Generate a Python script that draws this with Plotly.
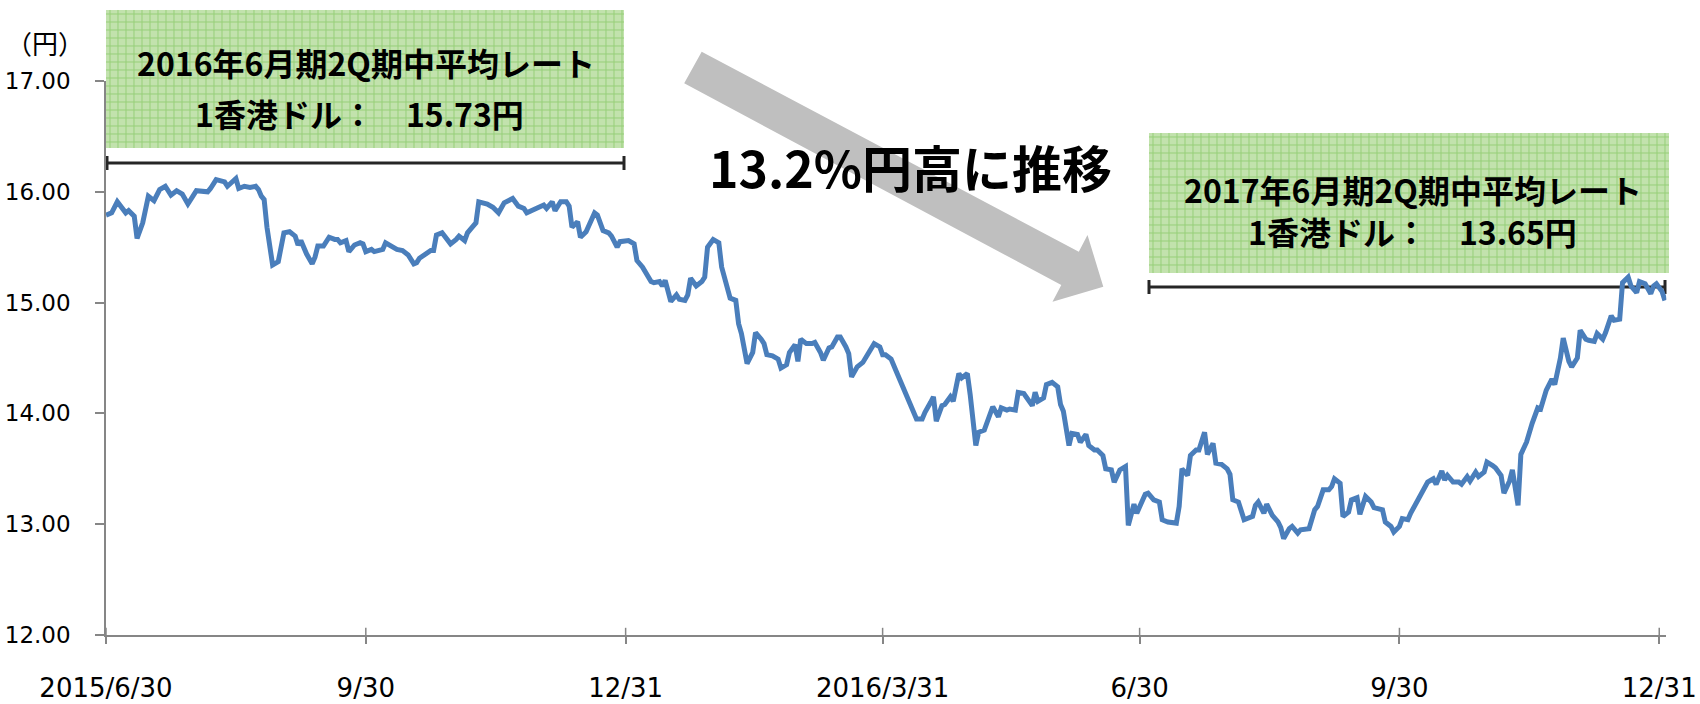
import pandas as pd
import plotly.graph_objects as go

# ---------------- data ----------------
START_DATE = "2015-06-30"
# trading-day positions (days after START_DATE) and HKD/JPY rate (円)
days = [0, 2, 4, 5, 7, 8, 10, 11, 13, 15, 17, 19, 21, 23, 25, 27, 29, 32, 36, 37,
        39, 42, 43, 46, 47, 49, 51, 53, 54, 55, 56, 57, 59, 61, 63, 65, 67, 68, 69, 71,
        73, 74, 75, 77, 79, 81, 82, 83, 85, 86, 88, 90, 91, 92, 94, 95, 98, 99, 101, 103,
        105, 107, 109, 110, 111, 113, 115, 116, 117, 119, 121, 122, 124, 125, 127, 128, 130, 131, 132, 135,
        137, 139, 141, 144, 146, 148, 149, 152, 154, 155, 156, 158, 159, 161, 163, 164, 165, 167, 168, 170,
        173, 174, 176, 178, 179, 181, 182, 184, 185, 187, 188, 190, 191, 193, 194, 196, 197, 198, 200, 202,
        203, 205, 206, 207, 209, 211, 212, 213, 215, 217, 218, 220, 221, 223, 224, 225, 227, 229, 230, 232,
        233, 234, 236, 238, 239, 241, 242, 244, 245, 246, 248, 250, 251, 253, 254, 256, 257, 259, 260, 262,
        263, 264, 266, 268, 269, 271, 272, 274, 275, 276, 278, 280, 281, 283, 285, 287, 289, 290, 292, 293,
        294, 296, 297, 299, 300, 302, 303, 305, 306, 308, 309, 311, 313, 314, 316, 317, 319, 320, 322, 323,
        325, 326, 328, 329, 330, 332, 333, 335, 337, 338, 339, 341, 342, 344, 345, 347, 348, 350, 351, 353,
        354, 356, 357, 359, 361, 362, 364, 365, 367, 368, 369, 371, 373, 374, 376, 379, 380, 381, 383, 384,
        386, 387, 389, 390, 392, 393, 395, 397, 398, 399, 401, 403, 406, 407, 408, 410, 411, 413, 415, 416,
        417, 419, 420, 422, 423, 425, 426, 428, 429, 431, 433, 434, 435, 437, 438, 440, 441, 443, 444, 446,
        448, 449, 451, 452, 453, 455, 456, 458, 459, 461, 462, 464, 467, 468, 470, 471, 473, 474, 475, 477,
        479, 480, 482, 483, 485, 486, 488, 489, 491, 492, 494, 495, 497, 498, 500, 501, 503, 504, 505, 507,
        508, 510, 512, 513, 515, 516, 518, 519, 521, 522, 524, 525, 527, 528, 530, 531, 533, 534, 536, 537,
        539, 540, 542, 543, 545, 547, 548, 549, 551, 552]
rates = [15.79, 15.81, 15.91, 15.88, 15.81, 15.83, 15.78, 15.58, 15.72, 15.96, 15.92, 16.02, 16.05, 15.97, 16.01, 15.98, 15.89, 16.01, 16.00, 16.03,
         16.11, 16.09, 16.05, 16.12, 16.03, 16.05, 16.04, 16.05, 16.02, 15.96, 15.93, 15.68, 15.34, 15.37, 15.63, 15.64, 15.60, 15.52, 15.56, 15.44,
         15.35, 15.41, 15.51, 15.51, 15.59, 15.57, 15.57, 15.54, 15.56, 15.46, 15.52, 15.54, 15.53, 15.46, 15.48, 15.46, 15.48, 15.54, 15.51, 15.48,
         15.47, 15.43, 15.35, 15.36, 15.40, 15.43, 15.47, 15.47, 15.61, 15.63, 15.57, 15.53, 15.57, 15.60, 15.56, 15.63, 15.69, 15.72, 15.91, 15.89,
         15.86, 15.81, 15.90, 15.94, 15.87, 15.85, 15.81, 15.84, 15.86, 15.88, 15.85, 15.91, 15.83, 15.91, 15.91, 15.87, 15.68, 15.73, 15.59, 15.64,
         15.81, 15.79, 15.65, 15.63, 15.60, 15.50, 15.55, 15.55, 15.56, 15.53, 15.38, 15.32, 15.28, 15.19, 15.18, 15.19, 15.15, 15.20, 15.01, 15.07,
         15.03, 15.02, 15.07, 15.22, 15.15, 15.19, 15.23, 15.50, 15.57, 15.54, 15.32, 15.12, 15.04, 15.02, 14.81, 14.72, 14.45, 14.55, 14.73, 14.67,
         14.63, 14.53, 14.52, 14.49, 14.41, 14.44, 14.55, 14.62, 14.47, 14.67, 14.63, 14.63, 14.64, 14.55, 14.48, 14.59, 14.60, 14.69, 14.69, 14.60,
         14.54, 14.33, 14.42, 14.46, 14.50, 14.60, 14.63, 14.60, 14.53, 14.53, 14.49, 14.37, 14.31, 14.21, 14.08, 13.95, 13.95, 14.01, 14.10, 14.15,
         13.93, 14.07, 14.08, 14.15, 14.11, 14.36, 14.32, 14.36, 14.17, 13.71, 13.83, 13.85, 13.99, 14.06, 13.97, 14.05, 14.03, 14.04, 14.03, 14.19,
         14.18, 14.14, 14.07, 14.19, 14.11, 14.14, 14.26, 14.28, 14.24, 14.08, 14.02, 13.71, 13.82, 13.81, 13.74, 13.81, 13.71, 13.67, 13.67, 13.62,
         13.50, 13.49, 13.38, 13.49, 13.52, 12.99, 13.18, 13.10, 13.20, 13.27, 13.28, 13.22, 13.20, 13.04, 13.02, 13.01, 13.16, 13.50, 13.44, 13.62,
         13.67, 13.67, 13.83, 13.63, 13.73, 13.55, 13.54, 13.50, 13.45, 13.22, 13.20, 13.04, 13.07, 13.17, 13.20, 13.10, 13.18, 13.08, 13.02, 12.97,
         12.87, 12.96, 12.98, 12.92, 12.95, 12.96, 12.96, 13.13, 13.16, 13.31, 13.31, 13.34, 13.41, 13.37, 13.07, 13.11, 13.22, 13.24, 13.09, 13.25,
         13.20, 13.15, 13.14, 13.13, 13.02, 12.98, 12.93, 12.98, 13.05, 13.04, 13.10, 13.19, 13.34, 13.38, 13.41, 13.36, 13.48, 13.40, 13.44, 13.38,
         13.38, 13.36, 13.43, 13.39, 13.47, 13.43, 13.47, 13.56, 13.53, 13.51, 13.44, 13.28, 13.39, 13.49, 13.17, 13.63, 13.74, 13.83, 13.91, 14.05,
         14.04, 14.21, 14.31, 14.26, 14.50, 14.68, 14.47, 14.42, 14.50, 14.75, 14.67, 14.66, 14.65, 14.72, 14.67, 14.73, 14.88, 14.84, 14.85, 15.18,
         15.23, 15.15, 15.09, 15.19, 15.17, 15.08, 15.15, 15.17, 15.10, 15.02]

tick_dates = ["2015-06-30", "2015-09-30", "2015-12-31", "2016-03-31", "2016-06-30", "2016-09-30", "2016-12-31"]
tick_labels = ["2015/6/30", "9/30", "12/31", "2016/3/31", "6/30", "9/30", "12/31"]
y_ticks = [12, 13, 14, 15, 16, 17]

y_unit = "（円）"
box1_lines = ["2016年6月期2Q期中平均レート", "1香港ドル：　15.73円"]
box2_lines = ["2017年6月期2Q期中平均レート", "1香港ドル：　13.65円"]
trend_text = "13.2%円高に推移"

# ---------------- layout helpers ----------------
W, H = 1700, 704
FONT_JP = "Noto Sans CJK JP"
FONT_AX = "DejaVu Sans"
AXIS_GREY = "#868686"


def px(x):
    return x / W


def py(y):
    return 1 - y / H


dates = pd.Timestamp(START_DATE) + pd.to_timedelta(days, unit="D")
x_start = pd.Timestamp(START_DATE)
x_end = pd.Timestamp("2017-01-02 12:00")

fig = go.Figure()
fig.add_trace(go.Scatter(
    x=dates, y=rates, mode="lines",
    line=dict(color="#4a7ebb", width=5),
    hoverinfo="skip", showlegend=False,
))

shapes = []


def grid_box(x0, y0, x1, y1, step=8):
    shapes.append(dict(type="rect", xref="paper", yref="paper",
                       x0=px(x0), x1=px(x1), y0=py(y1), y1=py(y0),
                       fillcolor="#c2e2ad", line=dict(width=0), layer="below"))
    segs = []
    x = x0 + step / 2
    while x < x1:
        segs.append(f"M{px(x):.5f},{py(y0):.5f}L{px(x):.5f},{py(y1):.5f}")
        x += step
    y = y0 + step / 2
    while y < y1:
        segs.append(f"M{px(x0):.5f},{py(y):.5f}L{px(x1):.5f},{py(y):.5f}")
        y += step
    shapes.append(dict(type="path", xref="paper", yref="paper", path="".join(segs),
                       line=dict(color="#97cf79", width=1), layer="below"))


def bracket(x0, x1, y, half=7):
    for seg in [(x0, y, x1, y), (x0, y - half, x0, y + half), (x1, y - half, x1, y + half)]:
        shapes.append(dict(type="line", xref="paper", yref="paper",
                           x0=px(seg[0]), y0=py(seg[1]), x1=px(seg[2]), y1=py(seg[3]),
                           line=dict(color="#262626", width=3), layer="below"))


grid_box(106, 10, 624, 148)
grid_box(1149, 133, 1669, 273)
bracket(107, 624, 163)
bracket(1149, 1665, 287)

# big grey arrow
arrow_pts = [(701.7, 51.7), (1078.8, 251.7), (1087.5, 235), (1103.3, 286.7),
             (1052.5, 301.7), (1061.3, 285), (684.2, 83.3)]
path = "M" + "L".join(f"{px(a):.5f},{py(b):.5f}" for a, b in arrow_pts) + "Z"
shapes.append(dict(type="path", xref="paper", yref="paper", path=path,
                   fillcolor="#bfbfbf", line=dict(width=0), layer="below"))

# inner half of the crossing x tick marks
for d in tick_dates:
    shapes.append(dict(type="line", xref="x", yref="y", x0=d, x1=d, y0=12, y1=12.065,
                       line=dict(color=AXIS_GREY, width=1.5), layer="above"))

annotations = [
    dict(text=y_unit, x=px(45), y=py(43), font=dict(family=FONT_JP, size=26, color="#000")),
    dict(text=f"<b>{box1_lines[0]}</b>", x=px(366), y=py(62), font=dict(family=FONT_JP, size=32, color="#000")),
    dict(text=f"<b>{box1_lines[1]}</b>", x=px(359), y=py(113), font=dict(family=FONT_JP, size=32, color="#000")),
    dict(text=f"<b>{box2_lines[0]}</b>", x=px(1413), y=py(189), font=dict(family=FONT_JP, size=32, color="#000")),
    dict(text=f"<b>{box2_lines[1]}</b>", x=px(1412), y=py(231), font=dict(family=FONT_JP, size=32, color="#000")),
    dict(text=f"<b>{trend_text}</b>", x=px(910), y=py(166), font=dict(family=FONT_JP, size=50, color="#000")),
]
for a in annotations:
    a.update(xref="paper", yref="paper", showarrow=False, xanchor="center", yanchor="middle")

fig.update_layout(
    width=W, height=H,
    margin=dict(l=0, r=0, t=0, b=0),
    paper_bgcolor="white", plot_bgcolor="rgba(0,0,0,0)",
    showlegend=False,
    shapes=shapes, annotations=annotations,
    xaxis=dict(
        domain=[px(106), px(106) + (1666.3 - 106) / W],
        range=[x_start, x_end], type="date",
        tickmode="array", tickvals=tick_dates, ticktext=tick_labels,
        showgrid=False, zeroline=False,
        showline=True, linecolor=AXIS_GREY, linewidth=2,
        ticks="outside", ticklen=7, tickwidth=1.5, tickcolor=AXIS_GREY,
        tickfont=dict(family=FONT_AX, size=26, color="#000"),
        ticklabelstandoff=22, automargin=False,
    ),
    yaxis=dict(
        domain=[69 / H, 623 / H],
        range=[12, 17], tickmode="array", tickvals=y_ticks, tickformat=".2f",
        showgrid=False, zeroline=False,
        showline=True, linecolor=AXIS_GREY, linewidth=1.5,
        ticks="outside", ticklen=9, tickwidth=1.5, tickcolor=AXIS_GREY,
        tickfont=dict(family=FONT_AX, size=23, color="#000"),
        ticklabelstandoff=20, automargin=False,
    ),
)

fig.write_html(
    "out.html",
    config={"displayModeBar": False},
    post_script="document.body.style.margin='0';document.body.style.overflow='hidden';",
)
